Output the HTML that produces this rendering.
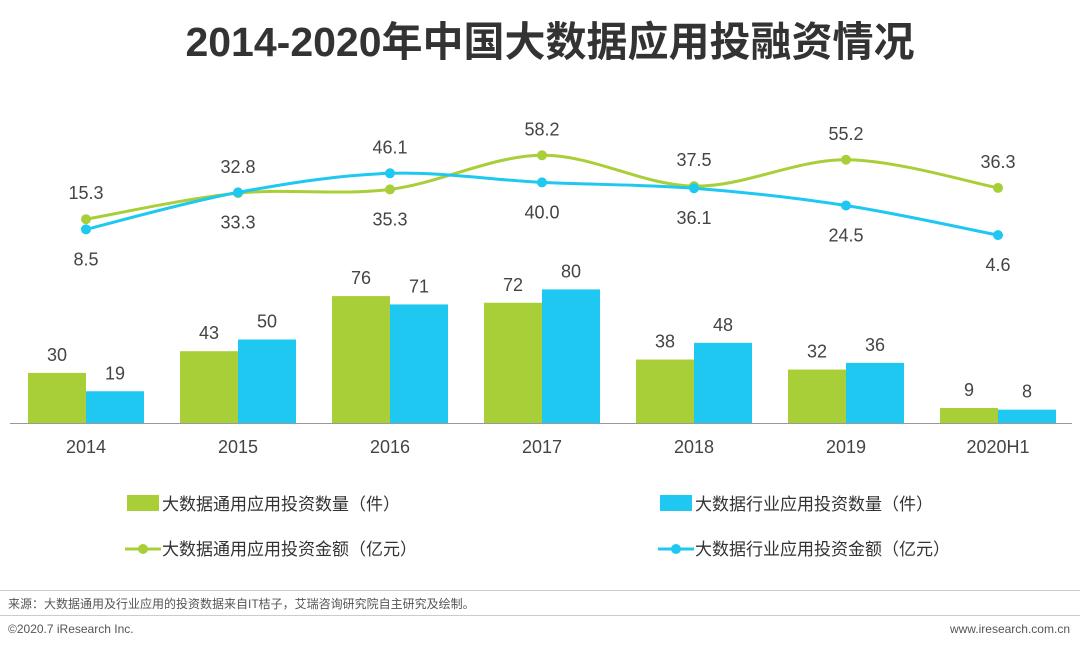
<!DOCTYPE html>
<html><head><meta charset="utf-8">
<style>
body{margin:0;width:1080px;height:648px;background:#fff;font-family:"Liberation Sans","Noto Sans CJK SC",sans-serif;overflow:hidden}
svg text{font-family:"Liberation Sans","Noto Sans CJK SC",sans-serif}
</style></head><body>
<svg id="c" width="1080" height="648">
<text x="550" y="56" text-anchor="middle" font-size="41" font-weight="bold" fill="#333">2014-2020年中国大数据应用投融资情况</text>
<line x1="10" y1="423.5" x2="1072" y2="423.5" stroke="#999" stroke-width="1"/>
<g id="bars"></g><g id="lines"></g><g id="labels"></g>
<g font-size="17" fill="#333">
<rect x="127" y="495" width="32" height="16" fill="#a9cf38"/>
<text x="162" y="510">大数据通用应用投资数量（件）</text>
<rect x="660" y="495" width="32" height="16" fill="#1ec8f0"/>
<text x="695" y="510">大数据行业应用投资数量（件）</text>
<line x1="125" y1="549" x2="161" y2="549" stroke="#a9cf38" stroke-width="3"/><circle cx="143" cy="549" r="5" fill="#a9cf38"/>
<text x="162" y="555">大数据通用应用投资金额（亿元）</text>
<line x1="658" y1="549" x2="694" y2="549" stroke="#1ec8f0" stroke-width="3"/><circle cx="676" cy="549" r="5" fill="#1ec8f0"/>
<text x="695" y="555">大数据行业应用投资金额（亿元）</text>
</g>
<line x1="0" y1="590.5" x2="1080" y2="590.5" stroke="#ccc"/>
<text x="8" y="608" font-size="12" fill="#555">来源：大数据通用及行业应用的投资数据来自IT桔子，艾瑞咨询研究院自主研究及绘制。</text>
<line x1="0" y1="615.5" x2="1080" y2="615.5" stroke="#ccc"/>
<text x="8" y="633" font-size="12" fill="#555">©2020.7 iResearch Inc.</text>
<text x="1070" y="633" font-size="12" fill="#555" text-anchor="end">www.iresearch.com.cn</text>
</svg>
<script>
const categories=["2014","2015","2016","2017","2018","2019","2020H1"];
const generalCount=[30,43,76,72,38,32,9];
const industryCount=[19,50,71,80,48,36,8];
const generalAmount=[15.3,32.8,35.3,58.2,37.5,55.2,36.3];
const industryAmount=[8.5,33.3,46.1,40.0,36.1,24.5,4.6];
const generalBelow=[false,false,true,false,false,false,false];
const industryBelow=[true,true,false,true,true,true,true];
const NS="http://www.w3.org/2000/svg";
const xc=i=>86+i*152;
const yb=v=>423-v*1.67;
const yl=v=>242-v*1.49;
function mk(t,a,p){const e=document.createElementNS(NS,t);for(const k in a)e.setAttribute(k,a[k]);p.appendChild(e);return e;}
const bars=document.getElementById('bars'),lines=document.getElementById('lines'),labels=document.getElementById('labels'),svg=document.getElementById('c');
categories.forEach((c,i)=>{
 const g=mk('rect',{x:xc(i)-58,y:yb(generalCount[i]),width:58,height:423-yb(generalCount[i]),fill:'#a9cf38'},bars);
 
 
 const b=mk('rect',{x:xc(i),y:yb(industryCount[i]),width:58,height:423-yb(industryCount[i]),fill:'#1ec8f0'},bars);
 
 
 const t1=mk('text',{x:xc(i)-29,y:yb(generalCount[i])-12,'text-anchor':'middle','font-size':18,fill:'#444'},labels);t1.textContent=generalCount[i];
 
 
 const t2=mk('text',{x:xc(i)+29,y:yb(industryCount[i])-12,'text-anchor':'middle','font-size':18,fill:'#444'},labels);t2.textContent=industryCount[i];
 
 
 const xt=mk('text',{x:xc(i),y:453,'text-anchor':'middle','font-size':18,fill:'#444'},labels);xt.textContent=c;
 
 
});
function path(vals){const p=vals.map((v,i)=>[xc(i),yl(v)]);let d='M'+p[0];
 for(let i=0;i<p.length-1;i++){const p0=p[i-1]||p[i],p1=p[i],p2=p[i+1],p3=p[i+2]||p2;
  d+=` C${p1[0]+(p2[0]-p0[0])/6},${p1[1]+(p2[1]-p0[1])/6} ${p2[0]-(p3[0]-p1[0])/6},${p2[1]-(p3[1]-p1[1])/6} ${p2[0]},${p2[1]}`;}return d;}
[[generalAmount,'#a9cf38','general',generalBelow],[industryAmount,'#1ec8f0','industry',industryBelow]].forEach(([vals,col,nm,below])=>{
 const l=mk('path',{d:path(vals),fill:'none',stroke:col,'stroke-width':3},lines);
 
 
 vals.forEach((v,i)=>{
  const c=mk('circle',{cx:xc(i),cy:yl(v),r:5,fill:col},lines);
  
  
  const t=mk('text',{x:xc(i),y:below[i]?yl(v)+36:yl(v)-20,'text-anchor':'middle','font-size':18,fill:'#444'},labels);
  t.textContent=v.toFixed(1);
  
  
 });
});
</script>
</body></html>
